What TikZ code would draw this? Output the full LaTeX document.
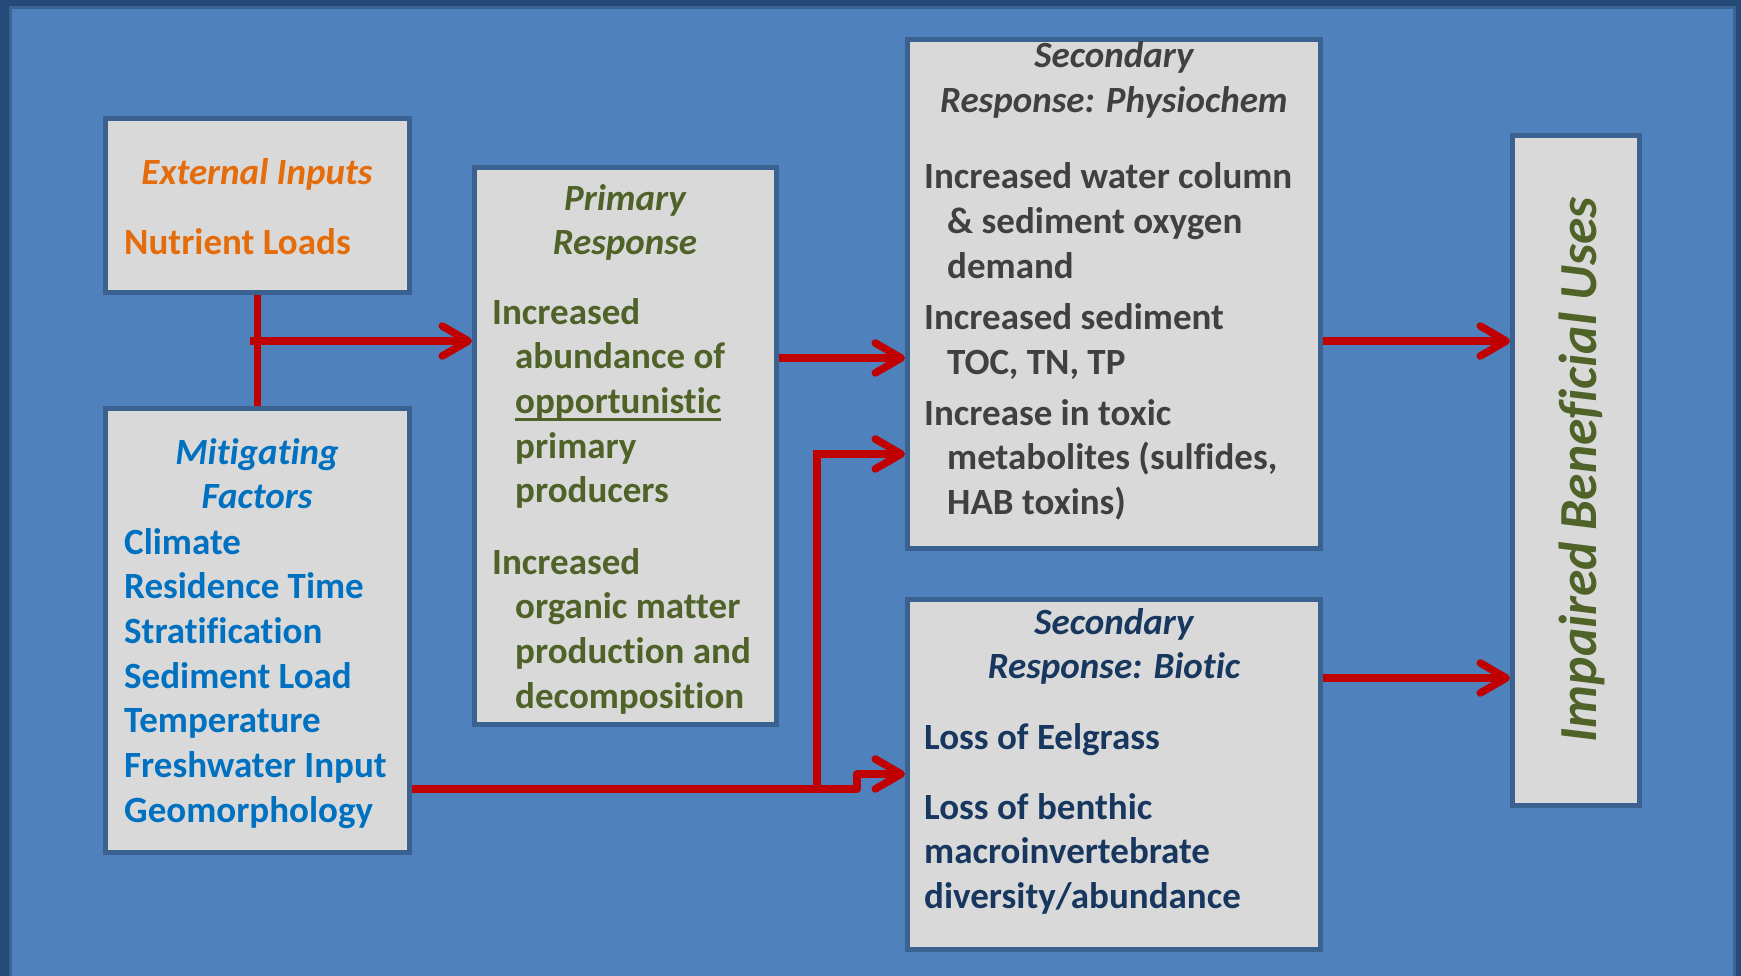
\documentclass[tikz,border=0pt]{standalone}
\usepackage{fontspec}
\setmainfont{Carlito}[Ligatures={NoCommon}]
\usetikzlibrary{arrows.meta}
\definecolor{bgblue}{HTML}{4F81BD}
\definecolor{bgdark}{HTML}{254A78}
\definecolor{bgedge}{HTML}{3A6496}
\definecolor{boxb}{HTML}{3B6190}
\definecolor{boxf}{HTML}{D9D9D9}
\definecolor{arrred}{HTML}{C00000}
\definecolor{torange}{HTML}{E46C0A}
\definecolor{tblue}{HTML}{0070C0}
\definecolor{tolive}{HTML}{4F6228}
\definecolor{tgrey}{HTML}{404040}
\definecolor{tnavy}{HTML}{17375E}
\newcommand\ulopp[1]{\setbox0\hbox{#1}\rlap{\rule[-7.5pt]{\wd0}{3.5pt}}\box0}
\newcommand\ind{\hspace*{23pt}}
\tikzset{
  box/.style={draw=boxb, fill=boxf, line width=5pt, inner sep=0pt, anchor=north west},
  body/.style={inner sep=0pt, anchor=north west, align=left,
    font=\bfseries\fontsize{37}{44.7}\selectfont, execute at begin node=\strut},
  title/.style={inner sep=0pt, anchor=north, align=center,
    font=\bfseries\itshape\fontsize{37}{44.7}\selectfont, execute at begin node=\strut},
  conn/.style={draw=arrred, line width=7.5pt},
  arr/.style={conn, -{Straight Barb[length=26pt,width=30pt,round]}},
}
\begin{document}
\begin{tikzpicture}[x=1pt,y=-1pt]
\useasboundingbox (0,0) rectangle (1741,976);
\fill[bgdark] (0,0) rectangle (1741,976);
\fill[bgblue, draw=bgedge, line width=3pt] (10,8) rectangle (1734,985);

% boxes
\node[box, minimum width=304pt, minimum height=174pt] (ext) at (103,116) {};
\node[box, minimum width=304pt, minimum height=444pt] (mit) at (103,406) {};
\node[box, minimum width=302pt, minimum height=557pt] (prim) at (472,165) {};
\node[box, minimum width=413pt, minimum height=509pt] (phys) at (905,37) {};
\node[box, minimum width=413pt, minimum height=350pt] (bio) at (905,597) {};
\node[box, minimum width=127pt, minimum height=670pt] (imp) at (1510,133) {};

% texts
\node[title, text=torange] (extT) at (257,153) {External Inputs};
\node[body, text=torange] (extB) at (124,223) {Nutrient Loads};

\node[title, text=tblue] (mitT) at (257,438) {Mitigating\\Factors};
\node[body, text=tblue] (mitB) at (124,528) {Climate\\Residence Time\\Stratification\\Sediment Load\\Temperature\\Freshwater Input\\Geomorphology};

\node[title, text=tolive] (primT) at (625,184) {Primary\\Response};
\node[body, text=tolive] (primB1) at (492,298) {Increased\\\ind abundance of\\\ind \ulopp{opportunistic}\\\ind primary\\\ind producers};
\node[body, text=tolive] (primB2) at (492,548) {Increased\\\ind organic matter\\\ind production and\\\ind decomposition};

\node[title, text=tgrey] (physT) at (1114,41.5) {Secondary\\Response: Physiochem};
\node[body, text=tgrey] (physB1) at (924,162.5) {Increased water column\\\ind \& sediment oxygen\\\ind demand};
\node[body, text=tgrey] (physB2) at (924,303.5) {Increased sediment\\\ind TOC, TN, TP};
\node[body, text=tgrey] (physB3) at (924,399) {Increase in toxic\\\ind metabolites (sulfides,\\\ind HAB toxins)};

\node[title, text=tnavy] (bioT) at (1114,608) {Secondary\\Response: Biotic};
\node[body, text=tnavy] (bioB1) at (924,718) {Loss of Eelgrass};
\node[body, text=tnavy] (bioB2) at (924,793) {Loss of benthic\\macroinvertebrate\\diversity/abundance};

\node[rotate=90, inner sep=0pt, text=tolive, font=\bfseries\itshape\fontsize{53.5}{60}\selectfont] (impT) at (1582,470) {Impaired Beneficial Uses};

% connector helpers
\coordinate (yA) at (0,341);
\coordinate (yB) at (0,358);
\coordinate (yD) at (0,454);
\coordinate (yE) at (0,774);
\coordinate (yF) at (0,678);
\coordinate (j1) at (250,341);
\coordinate (m1) at (817,789);
\coordinate (m2) at (857,789);
\coordinate (m3) at (857,774);

% connectors
\draw[conn] (ext.south) -- (mit.north);
\draw[arr] (j1) -- (j1 -| prim.west);
\draw[arr] (prim.east |- yB) -- (yB -| phys.west);
\draw[arr] (mit.east |- m1) -- (m1) |- (yD -| phys.west);
\draw[arr, line join=round] (m1) -- (m2) -- (m3) -- (yE -| bio.west);
\draw[arr] (phys.east |- yA) -- (yA -| imp.west);
\draw[arr] (bio.east |- yF) -- (yF -| imp.west);
\end{tikzpicture}
\end{document}
